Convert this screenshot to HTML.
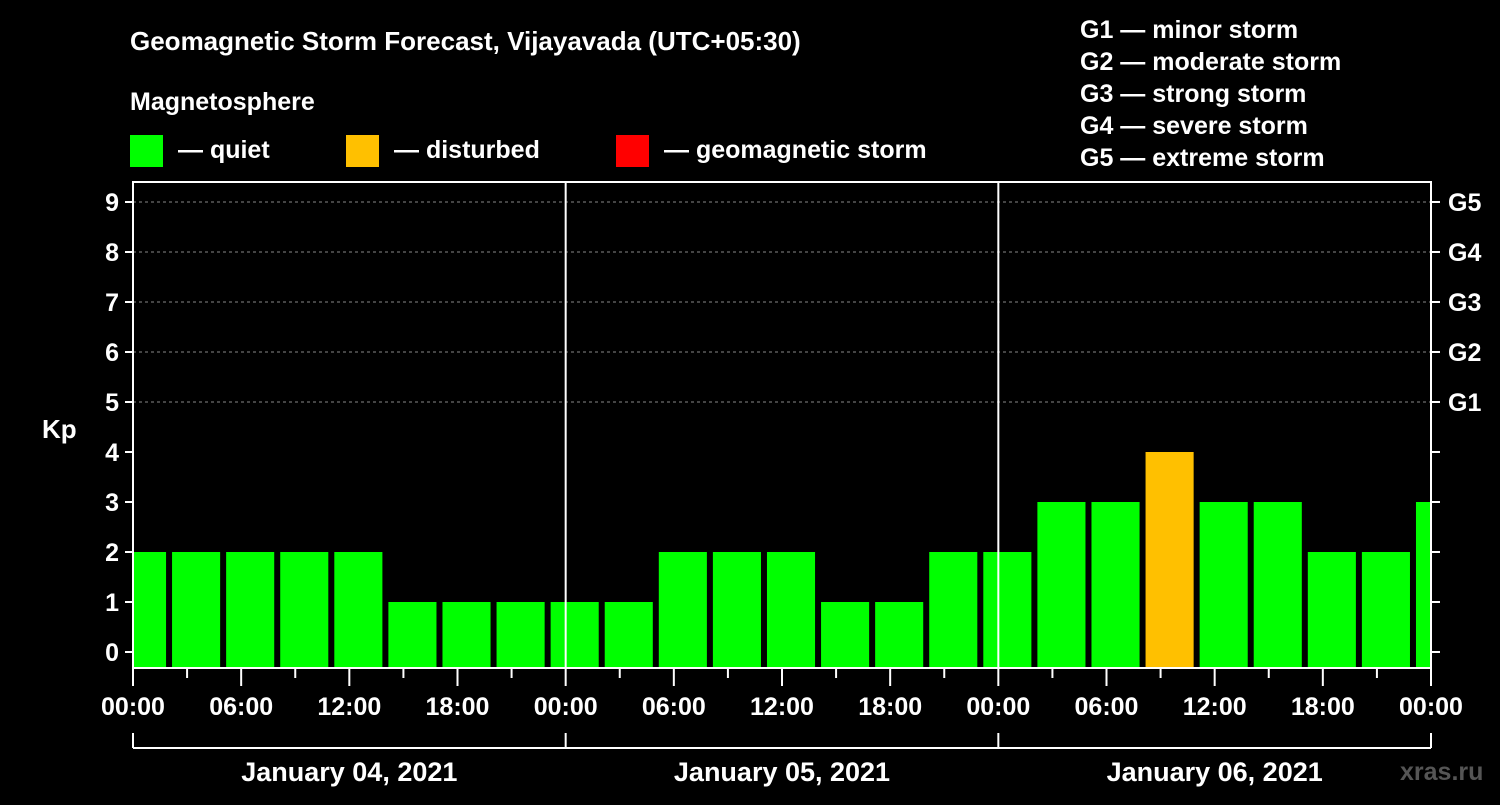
<!DOCTYPE html>
<html><head><meta charset="utf-8"><style>
body{margin:0;background:#000;}
svg text{font-family:"Liberation Sans",Arial,sans-serif;font-weight:bold;fill:#fff;}
</style></head><body>
<svg id="c" width="1500" height="800" xmlns="http://www.w3.org/2000/svg">
<rect width="1500" height="800" fill="#000"/>
<text x="130" y="50" font-size="26">Geomagnetic Storm Forecast, Vijayavada (UTC+05:30)</text>
<text x="130" y="110" font-size="25">Magnetosphere</text>
<g><rect x="130" y="135" width="33" height="32" fill="#00ff00"/><text x="178" y="158" font-size="25">— quiet</text></g>
<g><rect x="346" y="135" width="33" height="32" fill="#ffc000"/><text x="394" y="158" font-size="25">— disturbed</text></g>
<g><rect x="616" y="135" width="33" height="32" fill="#ff0000"/><text x="664" y="158" font-size="25">— geomagnetic storm</text></g>
<g font-size="25">
<text x="1080" y="38">G1 — minor storm</text><text x="1080" y="70">G2 — moderate storm</text><text x="1080" y="102">G3 — strong storm</text><text x="1080" y="134">G4 — severe storm</text><text x="1080" y="166">G5 — extreme storm</text></g>
<text x="42" y="438" font-size="26">Kp</text>
<text x="1400" y="780" font-size="25" fill="#444" style="fill:#555">xras.ru</text>
<g id="plot"></g>
</svg>
<script>
const kpValues=[2,2,2,2,2,1,1,1,1,1,2,2,2,1,1,2,2,3,3,4,3,3,2,2,3];
const yTicks=[0,1,2,3,4,5,6,7,8,9];
const gLabels=["G1","G2","G3","G4","G5"];
const xTickLabels=["00:00","06:00","12:00","18:00","00:00","06:00","12:00","18:00","00:00","06:00","12:00","18:00","00:00"];
const dayLabels=["January 04, 2021","January 05, 2021","January 06, 2021"];
const X0=133,X1=1431,YT=182,YB=668;
const hourPx=(X1-X0)/72;
const x=h=>X0+h*hourPx;
const y=v=>652-50*v;
const firstStartHour=-1;
const ns="http://www.w3.org/2000/svg";
const P=document.getElementById('plot');
function mk(t,a,p){const e=document.createElementNS(ns,t);for(const k in a)e.setAttribute(k,a[k]);(p||P).appendChild(e);return e;}
const clip=mk('clipPath',{id:'cl'});mk('rect',{x:X0,y:YT,width:X1-X0,height:YB-YT},clip);
// grid
for(let v=5;v<=9;v++){const l=mk('line',{x1:X0,x2:X1,y1:y(v),y2:y(v),stroke:'#888','stroke-dasharray':'3,3','stroke-width':1});

}
// bars
const bg=mk('g',{'clip-path':'url(#cl)'});
kpValues.forEach((v,i)=>{const s=x(firstStartHour+3*i)+3,e=x(firstStartHour+3*i+3)-3;
const r=mk('rect',{x:s,y:y(v),width:e-s,height:YB-y(v),fill:v>=5?'#ff0000':v>=4?'#ffc000':'#00ff00'},bg);

});
// day separators
[24,48].forEach(h=>{const l=mk('line',{x1:x(h),x2:x(h),y1:YT,y2:YB,stroke:'#fff','stroke-width':2});

});
// frame
const f=mk('rect',{x:X0,y:YT,width:X1-X0,height:YB-YT,fill:'none',stroke:'#fff','stroke-width':2});


// y ticks
yTicks.forEach(v=>{mk('line',{x1:X0-8,x2:X0,y1:y(v),y2:y(v),stroke:'#fff','stroke-width':2});
mk('line',{x1:X1,x2:X1+9,y1:y(v),y2:y(v),stroke:'#fff','stroke-width':2});
const t=mk('text',{x:X0-14,y:y(v)+9,'font-size':25,'text-anchor':'end'});t.textContent=v;

});
gLabels.forEach((g,i)=>{const t=mk('text',{x:1448,y:y(5+i)+9,'font-size':25});t.textContent=g;

});
// x ticks
for(let h=0;h<=72;h+=3){mk('line',{x1:x(h),x2:x(h),y1:YB,y2:YB+(h%6?10:18),stroke:'#fff','stroke-width':2});}
xTickLabels.forEach((s,i)=>{const t=mk('text',{x:x(i*6),y:715,'font-size':25,'text-anchor':'middle'});t.textContent=s;

});
// day bracket
mk('line',{x1:x(0),x2:x(72),y1:748,y2:748,stroke:'#fff','stroke-width':2});
for(let d=0;d<=3;d++)mk('line',{x1:x(d*24),x2:x(d*24),y1:733,y2:748,stroke:'#fff','stroke-width':2});
dayLabels.forEach((s,i)=>{const t=mk('text',{x:x(i*24+12),y:781,'font-size':27,'text-anchor':'middle'});t.textContent=s;

});
</script>
</body></html>
